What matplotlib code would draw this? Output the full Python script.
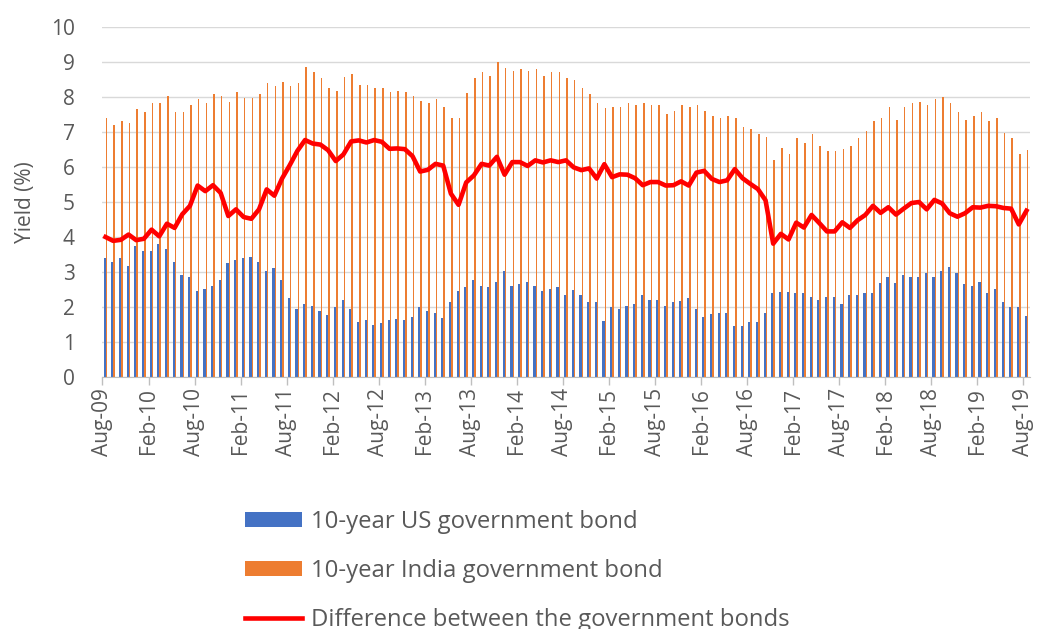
import matplotlib
matplotlib.use("Agg")
import matplotlib.pyplot as plt
import numpy as np

# monthly 10-year yields, Aug-2009 .. Aug-2019
india_yield = [
    7.39, 7.19, 7.31, 7.25, 7.66, 7.56, 7.82, 7.82, 8.03, 7.56, 7.56, 7.76, 7.93, 7.82, 8.09,
    8.03, 7.87, 8.13, 7.96, 7.96, 8.09, 8.39, 8.30, 8.44, 8.30, 8.39, 8.85, 8.70, 8.53, 8.25,
    8.18, 8.56, 8.66, 8.34, 8.33, 8.25, 8.25, 8.15, 8.18, 8.14, 8.03, 7.88, 7.82, 7.93, 7.72,
    7.39, 7.39, 8.12, 8.53, 8.70, 8.60, 9.01, 8.82, 8.75, 8.80, 8.75, 8.80, 8.60, 8.70, 8.70,
    8.53, 8.49, 8.25, 8.09, 7.82, 7.68, 7.72, 7.72, 7.82, 7.77, 7.82, 7.77, 7.77, 7.51, 7.61,
    7.77, 7.72, 7.77, 7.61, 7.46, 7.41, 7.46, 7.41, 7.15, 7.08, 6.93, 6.87, 6.20, 6.53, 6.37,
    6.82, 6.68, 6.93, 6.60, 6.46, 6.46, 6.51, 6.60, 6.82, 7.04, 7.30, 7.39, 7.72, 7.34, 7.72,
    7.84, 7.87, 7.77, 7.93, 7.99, 7.82, 7.56, 7.34, 7.46, 7.56, 7.30, 7.39, 6.98, 6.82, 6.37, 6.49,
]
us_yield = [
    3.39, 3.30, 3.39, 3.18, 3.75, 3.61, 3.61, 3.80, 3.65, 3.30, 2.91, 2.87, 2.46, 2.51, 2.61,
    2.77, 3.27, 3.34, 3.39, 3.44, 3.30, 3.03, 3.12, 2.77, 2.25, 1.93, 2.08, 2.03, 1.89, 1.77,
    2.01, 2.20, 1.93, 1.58, 1.63, 1.48, 1.53, 1.63, 1.65, 1.63, 1.72, 2.01, 1.90, 1.84, 1.68,
    2.15, 2.47, 2.56, 2.77, 2.61, 2.56, 2.72, 3.04, 2.61, 2.66, 2.72, 2.61, 2.47, 2.51, 2.56,
    2.34, 2.50, 2.34, 2.13, 2.15, 1.60, 2.01, 1.93, 2.04, 2.09, 2.34, 2.20, 2.20, 2.04, 2.13,
    2.18, 2.25, 1.93, 1.72, 1.80, 1.84, 1.84, 1.47, 1.47, 1.56, 1.56, 1.82, 2.39, 2.44, 2.44,
    2.41, 2.41, 2.30, 2.20, 2.30, 2.30, 2.09, 2.34, 2.34, 2.41, 2.41, 2.70, 2.87, 2.70, 2.91,
    2.87, 2.87, 2.98, 2.87, 3.03, 3.14, 2.98, 2.66, 2.61, 2.72, 2.41, 2.51, 2.15, 2.01, 2.01, 1.74,
]
spread = [
    4.00, 3.89, 3.92, 4.07, 3.91, 3.95, 4.21, 4.02, 4.38, 4.26, 4.65, 4.89, 5.47, 5.31, 5.48,
    5.26, 4.60, 4.79, 4.57, 4.52, 4.79, 5.36, 5.18, 5.67, 6.05, 6.46, 6.77, 6.67, 6.64, 6.48,
    6.17, 6.36, 6.73, 6.76, 6.70, 6.77, 6.72, 6.52, 6.53, 6.51, 6.31, 5.87, 5.92, 6.09, 6.04,
    5.24, 4.92, 5.56, 5.76, 6.09, 6.04, 6.29, 5.78, 6.14, 6.14, 6.03, 6.19, 6.13, 6.19, 6.14,
    6.19, 5.99, 5.91, 5.96, 5.67, 6.08, 5.71, 5.79, 5.78, 5.68, 5.48, 5.57, 5.57, 5.47, 5.48,
    5.59, 5.47, 5.84, 5.89, 5.66, 5.57, 5.62, 5.94, 5.68, 5.52, 5.37, 5.05, 3.81, 4.09, 3.93,
    4.41, 4.27, 4.63, 4.40, 4.16, 4.16, 4.42, 4.26, 4.48, 4.63, 4.89, 4.69, 4.85, 4.64, 4.81,
    4.97, 5.00, 4.79, 5.06, 4.96, 4.68, 4.58, 4.68, 4.85, 4.84, 4.89, 4.88, 4.83, 4.81, 4.36, 4.75,
]
tick_labels = ["Aug-09", "Feb-10", "Aug-10", "Feb-11", "Aug-11", "Feb-12", "Aug-12",
               "Feb-13", "Aug-13", "Feb-14", "Aug-14", "Feb-15", "Aug-15", "Feb-16",
               "Aug-16", "Feb-17", "Aug-17", "Feb-18", "Aug-18", "Feb-19", "Aug-19"]

plt.rcParams['font.family'] = ['Open Sans', 'DejaVu Sans']
grey = '#595959'

fig = plt.figure(figsize=(10.37, 6.29), dpi=100)
ax = fig.add_axes([0.0988, 0.4006, 0.8940, 0.5565])

x = np.arange(len(india_yield))
h_us = ax.bar(x - 0.1, us_yield, width=0.3, color='#4472C4',
              label='10-year US government bond', zorder=2)
h_in = ax.bar(x + 0.13, india_yield, width=0.2, color='#ED7D31',
              label='10-year India government bond', zorder=2)
h_diff, = ax.plot(x, spread, color='#FF0000', lw=3.3, zorder=3, solid_joinstyle='round',
                  label='Difference between the government bonds')

ax.set_xlim(-0.4, 120.4)
ax.set_ylim(0, 10)
ax.set_yticks(range(0, 11))
ax.yaxis.grid(True, color='#D9D9D9', lw=1.0, zorder=0)
ax.set_axisbelow(True)

ax.set_xticks(np.arange(0, 121, 6) - 0.4)
ax.set_xticklabels(tick_labels, rotation=90)

for s in ['top', 'right', 'left']:
    ax.spines[s].set_visible(False)
ax.spines['bottom'].set_color('#BFBFBF')
ax.tick_params(axis='y', length=0, pad=20, labelsize=15, labelcolor=grey)
ax.tick_params(axis='x', length=6, width=1, color='#BFBFBF', pad=2, labelsize=15, labelcolor=grey)

ax.set_ylabel('Yield (%)', fontsize=15, color=grey)
ax.yaxis.set_label_coords(-0.072, 0.5)

# legend stacked below the plot; the last row runs off the bottom edge
fig.legend(handles=[h_us, h_in, h_diff], loc='upper left', bbox_to_anchor=(0.227, 0.205),
           frameon=False, fontsize=17.2, labelcolor=grey, handlelength=2.4, handleheight=0.58,
           handletextpad=0.38, labelspacing=1.06, borderaxespad=0)

fig.savefig('out.png', dpi=100)
